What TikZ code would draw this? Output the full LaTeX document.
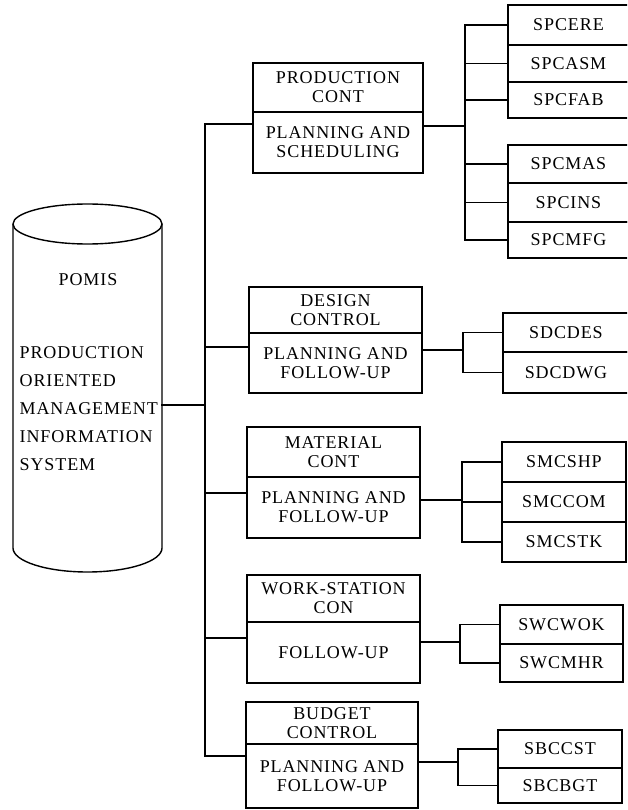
\documentclass[tikz,border=0pt]{standalone}
\usepackage{fontspec}
\setmainfont{Liberation Serif}[LetterSpace=5]
\begin{document}
\begin{tikzpicture}[x=1pt,y=-1pt,line width=1.4pt,
  part/.style={draw,rectangle,inner sep=0pt,outer sep=0pt,align=center,
    font=\fontsize{18}{19}\selectfont,anchor=north west},
  leaf/.style={part},
  wire/.style={draw,line width=1.4pt,line cap=rect}]
\clip (0,0) rectangle (627,810);
\fill[white] (0,0) rectangle (627,810);

% ---- database cylinder ----
\draw (87.5,224) ellipse [x radius=74.5, y radius=20];
\draw (13,224) -- (13,548) .. controls (13,561.3) and (46.5,572) .. (87.5,572)
      .. controls (128.5,572) and (162,561.3) .. (162,548) -- (162,224);
\node[font=\fontsize{18}{19}\selectfont] (pomis) at (88,280) {POMIS};
\node[font=\fontsize{18}{28}\selectfont,align=left,anchor=north west,inner sep=0pt]
  (pomisfull) at (19,346) {PRODUCTION\\ORIENTED\\MANAGEMENT\\INFORMATION\\SYSTEM};
\coordinate (cyl) at (162,405);

% ---- subsystem boxes ----
\node[part,minimum width=170pt,minimum height=49pt] (pct) at (253,63) {PRODUCTION\\CONT};
\node[part,minimum width=170pt,minimum height=61pt] (pcb) at (253,112) {PLANNING AND\\SCHEDULING};

\node[part,minimum width=173pt,minimum height=46pt] (dct) at (249,287) {DESIGN\\CONTROL};
\node[part,minimum width=173pt,minimum height=60pt] (dcb) at (249,333) {PLANNING AND\\FOLLOW-UP};

\node[part,minimum width=173pt,minimum height=50pt] (mct) at (247,427) {MATERIAL\\CONT};
\node[part,minimum width=173pt,minimum height=61pt] (mcb) at (247,477) {PLANNING AND\\FOLLOW-UP};

\node[part,minimum width=173pt,minimum height=47pt] (wct) at (247,575) {WORK-STATION\\CON};
\node[part,minimum width=173pt,minimum height=61pt] (wcb) at (247,622) {FOLLOW-UP};

\node[part,minimum width=172pt,minimum height=42pt] (bct) at (246,702) {BUDGET\\CONTROL};
\node[part,minimum width=172pt,minimum height=64pt] (bcb) at (246,744) {PLANNING AND\\FOLLOW-UP};

% ---- program modules ----
\node[leaf,minimum width=121pt,minimum height=40pt] (spcere) at (508,5)   {SPCERE};
\node[leaf,minimum width=121pt,minimum height=37pt] (spcasm) at (508,45)  {SPCASM};
\node[leaf,minimum width=121pt,minimum height=36pt] (spcfab) at (508,82)  {SPCFAB};
\node[leaf,minimum width=121pt,minimum height=38pt] (spcmas) at (508,145) {SPCMAS};
\node[leaf,minimum width=121pt,minimum height=39pt] (spcins) at (508,183) {SPCINS};
\node[leaf,minimum width=121pt,minimum height=36pt] (spcmfg) at (508,222) {SPCMFG};

\node[leaf,minimum width=126pt,minimum height=39pt] (sdcdes) at (503,313) {SDCDES};
\node[leaf,minimum width=126pt,minimum height=41pt] (sdcdwg) at (503,352) {SDCDWG};

\node[leaf,minimum width=124pt,minimum height=40pt] (smcshp) at (502,442) {SMCSHP};
\node[leaf,minimum width=124pt,minimum height=40pt] (smccom) at (502,482) {SMCCOM};
\node[leaf,minimum width=124pt,minimum height=40pt] (smcstk) at (502,522) {SMCSTK};

\node[leaf,minimum width=123pt,minimum height=39pt] (swcwok) at (500,605) {SWCWOK};
\node[leaf,minimum width=123pt,minimum height=38pt] (swcmhr) at (500,644) {SWCMHR};

\node[leaf,minimum width=124pt,minimum height=38pt] (sbccst) at (498,730) {SBCCST};
\node[leaf,minimum width=124pt,minimum height=35pt] (sbcbgt) at (498,768) {SBCBGT};

% ---- trunk from the database to the subsystems ----
\coordinate (tp) at (205,124);
\coordinate (td) at (205,347);
\coordinate (tm) at (205,493);
\coordinate (tw) at (205,638);
\coordinate (tb) at (205,756);
\draw[wire] (cyl) -- (cyl -| tp);
\draw[wire] (tp) -- (tb);
\draw[wire] (tp) -- (tp -| pcb.west);
\draw[wire] (td) -- (td -| dcb.west);
\draw[wire] (tm) -- (tm -| mcb.west);
\draw[wire] (tw) -- (tw -| wcb.west);
\draw[wire] (tb) -- (tb -| bcb.west);

% ---- brackets from the subsystems to their modules ----
\coordinate (jp) at (465,126);
\draw[wire] (jp -| pcb.east) -- (jp);
\draw[wire] (jp |- spcere.west) -- (jp |- spcmfg.west);
\foreach \m in {spcere,spcasm,spcfab,spcmas,spcins,spcmfg}
  \draw[wire] (jp |- \m.west) -- (\m.west);

\coordinate (jd) at (463,350);
\draw[wire] (jd -| dcb.east) -- (jd);
\draw[wire] (jd |- sdcdes.west) -- (jd |- sdcdwg.west);
\foreach \m in {sdcdes,sdcdwg}
  \draw[wire] (jd |- \m.west) -- (\m.west);

\coordinate (jm) at (462,500);
\draw[wire] (jm -| mcb.east) -- (jm);
\draw[wire] (jm |- smcshp.west) -- (jm |- smcstk.west);
\foreach \m in {smcshp,smccom,smcstk}
  \draw[wire] (jm |- \m.west) -- (\m.west);

\coordinate (jw) at (460,642);
\draw[wire] (jw -| wcb.east) -- (jw);
\draw[wire] (jw |- swcwok.west) -- (jw |- swcmhr.west);
\foreach \m in {swcwok,swcmhr}
  \draw[wire] (jw |- \m.west) -- (\m.west);

\coordinate (jb) at (458,762);
\draw[wire] (jb -| bcb.east) -- (jb);
\draw[wire] (jb |- sbccst.west) -- (jb |- sbcbgt.west);
\foreach \m in {sbccst,sbcbgt}
  \draw[wire] (jb |- \m.west) -- (\m.west);
\end{tikzpicture}
\end{document}
